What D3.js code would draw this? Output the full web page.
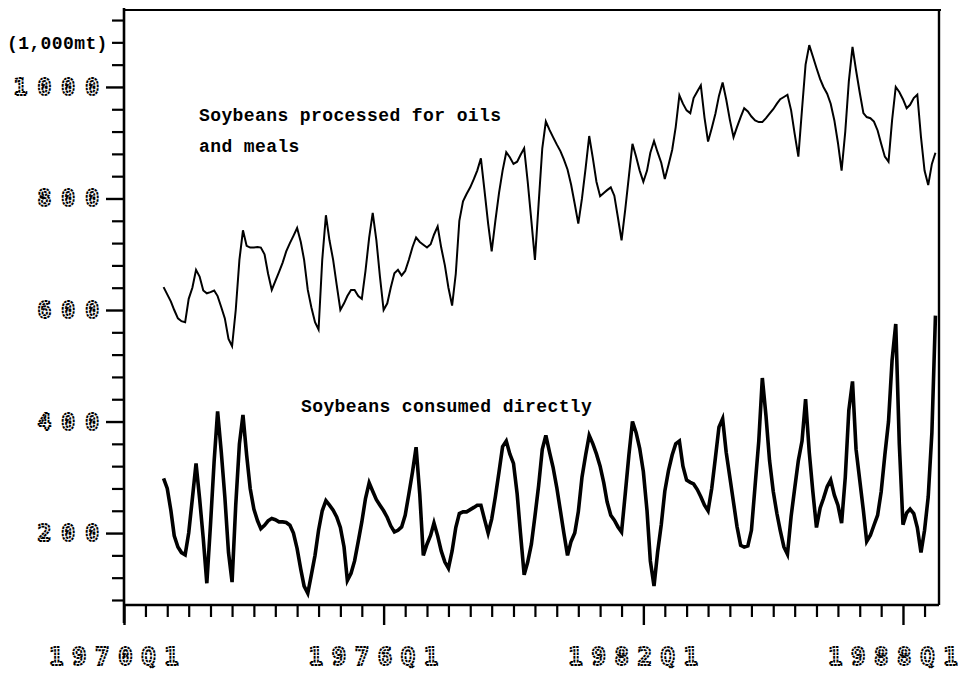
<!DOCTYPE html>
<html>
<head>
<meta charset="utf-8">
<script src="https://cdn.jsdelivr.net/npm/d3@7"></script>
<style>
  body { margin: 0; background: #fff; }
  svg { display: block; }
  .mono { font-family: "Liberation Mono", "Courier New", monospace; font-weight: bold; font-size: 18px; letter-spacing: 0.4px; fill: #000; }
  .dotnum { font-family: "DejaVu Sans Mono", monospace; font-weight: bold; fill: #fff; stroke: #000; stroke-width: 1.9px; stroke-dasharray: 2.6, 0.9; }
</style>
</head>
<body>
<div id="chart"></div>
<script>
// monthly series, Dec 1970 .. Oct 1988 (1,000 mt)
var startYear = 1970, startMonth = 11;

var processed = [
  641, 628, 615, 600, 585, 580, 578, 620, 640, 672, 660, 635,
  630, 632, 635, 625, 605, 585, 548, 535, 600, 690, 743, 715,
  712, 712, 713, 712, 700, 665, 636, 652, 668, 685, 705, 720,
  733, 747, 722, 690, 636, 605, 578, 565, 690, 770, 725, 690,
  645, 600, 612, 625, 636, 636, 625, 620, 670, 730, 774, 725,
  660, 600, 612, 640, 666, 672, 662, 670, 690, 713, 730, 722,
  717, 712, 718, 735, 750, 712, 680, 640, 608, 665, 760, 795,
  808, 820, 835, 850, 872, 815, 755, 705, 760, 810, 850, 883,
  874, 862, 866, 878, 890, 830, 760, 690, 790, 890, 938, 923,
  910, 897, 885, 870, 852, 825, 790, 755, 800, 855, 912, 872,
  830, 804, 810, 815, 820, 805, 765, 725, 780, 840, 898, 875,
  850, 830, 850, 882, 903, 883, 864, 835, 860, 887, 928, 985,
  970, 958, 953, 980, 992, 1003, 945, 902, 926, 952, 984, 1008,
  978, 941, 910, 928, 946, 962, 956, 947, 940, 937, 937, 944,
  952, 960, 970, 978, 982, 986, 958, 916, 875, 960, 1040, 1075,
  1055, 1034, 1014, 1000, 988, 970, 940, 900, 850, 920, 1010, 1072,
  1030, 990, 953, 946, 944, 938, 922, 898, 875, 866, 940, 1000,
  991, 978, 962, 968, 980, 986, 910, 850, 824, 862, 882
];

var consumed = [
  298, 280, 240, 195, 175, 165, 161, 200, 262, 325, 262, 190,
  110, 215, 330, 418, 345, 265, 165, 112, 250, 360, 412, 340,
  280, 243, 222, 208, 214, 222, 226, 224, 220, 220, 219, 214,
  200, 172, 135, 105, 92, 125, 160, 205, 240, 258, 250, 241,
  229, 210, 175, 115, 128, 150, 185, 220, 262, 290, 275, 260,
  250, 240, 228, 213, 202, 205, 211, 232, 270, 310, 354, 270,
  160, 180, 196, 218, 195, 168, 148, 137, 168, 210, 235, 238,
  238, 242, 246, 250, 250, 225, 200, 225, 265, 310, 355, 365,
  342, 325, 270, 200, 125, 148, 180, 230, 285, 350, 375, 345,
  318, 282, 240, 200, 160, 185, 200, 238, 300, 340, 375, 360,
  342, 320, 290, 256, 232, 223, 211, 202, 270, 340, 400, 380,
  352, 310, 240, 150, 105, 165, 215, 275, 312, 340, 360, 365,
  320, 295, 291, 288, 278, 265, 250, 240, 280, 335, 390, 405,
  345, 300, 255, 212, 178, 175, 177, 205, 285, 365, 478, 410,
  330, 275, 235, 205, 175, 162, 230, 280, 330, 365, 440, 345,
  275, 210, 245, 262, 283, 295, 268, 250, 218, 300, 420, 472,
  350, 295, 240, 185, 196, 214, 232, 274, 340, 400, 510, 575,
  360, 215, 236, 243, 235, 210, 165, 205, 265, 380, 590
];

var yLabels = [200, 400, 600, 800, 1000];
var xLabelYears = [1970, 1976, 1982, 1988];
var xLabels = ["1970Q1", "1976Q1", "1982Q1", "1988Q1"];

var width = 965, height = 675;
var plotLeft = 124, plotRight = 939, plotTop = 10, plotBottom = 605;

var svg = d3.select("#chart").append("svg")
    .attr("width", width)
    .attr("height", height);

svg.append("rect").attr("width", width).attr("height", height).attr("fill", "#fff");

var x = d3.scaleTime()
    .domain([new Date(1970, 0, 1), new Date(1988, 9, 31)])
    .range([plotLeft, plotRight]);

var y = d3.scaleLinear()
    .domain([71, 1138])
    .range([plotBottom, plotTop]);

var dates = processed.map(function(d, i) {
    return new Date(startYear, startMonth + i, 1);
});

// y ticks (minor every 40, major every 200)
var minorY = d3.range(80, 1121, 40).filter(function(v) { return v % 200 !== 0; });
svg.append("g")
    .attr("transform", "translate(" + plotLeft + ",0)")
    .call(d3.axisLeft(y).tickValues(minorY).tickSize(12).tickSizeOuter(0).tickFormat(""))
    .call(function(g) { g.select(".domain").remove(); })
    .selectAll("line").attr("stroke-width", 2.2);

svg.append("g")
    .attr("transform", "translate(" + plotLeft + ",0)")
    .call(d3.axisLeft(y).tickValues(yLabels).tickSize(18).tickSizeOuter(0).tickFormat(""))
    .call(function(g) { g.select(".domain").remove(); })
    .selectAll("line").attr("stroke-width", 2.4);

// x ticks (minor every half year, major every 6 years)
var minorX = d3.timeMonth.every(6).range(new Date(1970, 0, 1), new Date(1988, 7, 1))
    .filter(function(d) { return !(d.getMonth() === 0 && (d.getFullYear() - 1970) % 6 === 0); });
svg.append("g")
    .attr("transform", "translate(0," + plotBottom + ")")
    .call(d3.axisBottom(x).tickValues(minorX).tickSize(12).tickSizeOuter(0).tickFormat(""))
    .call(function(g) { g.select(".domain").remove(); })
    .selectAll("line").attr("stroke-width", 2.2);

svg.append("g")
    .attr("transform", "translate(0," + plotBottom + ")")
    .call(d3.axisBottom(x).tickValues(xLabelYears.map(function(yr) { return new Date(yr, 0, 1); }))
        .tickSize(20).tickSizeOuter(0).tickFormat(""))
    .call(function(g) { g.select(".domain").remove(); })
    .selectAll("line").attr("stroke-width", 2.4);

// frame
var frame = svg.append("g").attr("stroke", "#000").attr("fill", "none");
frame.append("line").attr("x1", plotLeft).attr("x2", plotLeft).attr("y1", plotTop - 2).attr("y2", plotBottom + 18).attr("stroke-width", 2.6);
frame.append("line").attr("x1", plotLeft).attr("x2", plotRight + 2).attr("y1", plotTop).attr("y2", plotTop).attr("stroke-width", 2.2);
frame.append("line").attr("x1", plotLeft).attr("x2", plotRight).attr("y1", plotBottom).attr("y2", plotBottom).attr("stroke-width", 2.4);
frame.append("line").attr("x1", plotRight).attr("x2", plotRight).attr("y1", plotTop).attr("y2", plotBottom).attr("stroke-width", 2.4);

// series
var lineMonthly = d3.line()
    .x(function(d, i) { return x(dates[i]); })
    .y(function(d) { return y(d); });

svg.append("path")
    .attr("d", lineMonthly(processed))
    .attr("fill", "none")
    .attr("stroke", "#000")
    .attr("stroke-width", 2);

svg.append("path")
    .attr("d", lineMonthly(consumed))
    .attr("fill", "none")
    .attr("stroke", "#000")
    .attr("stroke-width", 3.6);

// y labels
svg.append("g").selectAll("text")
    .data(yLabels)
    .enter().append("text")
    .attr("class", "dotnum")
    .attr("x", 98 + 11)
    .attr("y", function(d) { return y(d) + 8; })
    .attr("text-anchor", "end")
    .style("font-size", "23px")
    .style("letter-spacing", "10px")
    .text(function(d) { return d; });

svg.append("text")
    .attr("class", "mono")
    .attr("x", 7)
    .attr("y", 49)
    .text("(1,000mt)");

// x labels
svg.append("g").selectAll("text")
    .data(xLabels)
    .enter().append("text")
    .attr("class", "dotnum")
    .attr("x", function(d, i) { return x(new Date(xLabelYears[i], 0, 1)) - 75; })
    .attr("y", 665)
    .style("font-size", "24px")
    .style("letter-spacing", "8.6px")
    .text(function(d) { return d; });

// series labels
svg.append("text").attr("class", "mono").attr("x", 199).attr("y", 121).text("Soybeans processed for oils");
svg.append("text").attr("class", "mono").attr("x", 199).attr("y", 152).text("and meals");
svg.append("text").attr("class", "mono").attr("x", 301).attr("y", 412).text("Soybeans consumed directly");
</script>
</body>
</html>
